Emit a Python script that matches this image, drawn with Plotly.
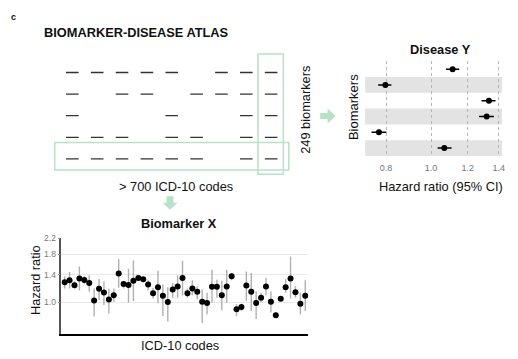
import numpy as np
import plotly.graph_objects as go

# The page body has an 8px default margin; the figure is sized so it fits the window.
OFF = 8
W, H = 518 - OFF, 359 - OFF
FONT = "Liberation Sans, Arial, Helvetica, sans-serif"
GREEN = "#b7e2c8"

# ---------------- Data ----------------
# Atlas presence matrix (rows = biomarkers, cols = ICD-10 codes)
atlas_cols = [1, 2, 3, 4, 5, 6, 7, 8, 9]
atlas_rows = [1, 2, 3, 4, 5]
atlas_presence = [
    [1, 1, 1, 1, 1, 0, 1, 1, 1],
    [1, 0, 1, 1, 0, 1, 1, 1, 1],
    [1, 0, 0, 0, 1, 0, 0, 1, 1],
    [1, 1, 1, 0, 1, 1, 0, 1, 1],
    [1, 1, 1, 1, 1, 1, 0, 1, 1],
]

# Disease Y forest plot
biomarker_rows = [1, 2, 3, 4, 5, 6]
hr_y = [1.113, 0.797, 1.333, 1.318, 0.772, 1.068]
hr_y_lo = [1.077, 0.769, 1.285, 1.269, 0.744, 1.033]
hr_y_hi = [1.150, 0.821, 1.377, 1.366, 0.801, 1.107]
forest_ticks = [0.8, 1.0, 1.2, 1.4]
forest_ticktext = ["0.8", "1.0", "1.2", "1.4"]

# Biomarker X across ICD-10 codes
icd_codes = list(range(1, 51))
hr_x = [1.276, 1.308, 1.230, 1.335, 1.313, 1.266, 1.020, 1.177, 1.125, 1.033,
        1.089, 1.424, 1.251, 1.235, 1.302, 1.345, 1.324, 1.240, 1.116, 1.201,
        1.080, 1.000, 1.167, 1.211, 1.345, 1.116, 1.181, 1.134, 1.004, 0.988,
        1.206, 1.206, 1.089, 1.211, 1.373, 0.915, 0.941, 1.225, 1.134, 0.988,
        1.054, 1.211, 1.004, 0.850, 1.042, 1.201, 1.335, 1.130, 0.980, 1.080]
hr_x_lo = [1.181, 1.181, 1.181, 1.153, 1.251, 1.134, 0.836, 1.025, 0.964, 0.867,
           1.004, 1.191, 1.181, 0.992, 1.012, 1.292, 1.276, 1.153, 1.046, 0.984,
           0.843, 0.787, 1.054, 1.054, 1.085, 1.054, 1.089, 1.033, 0.771, 0.860,
           0.992, 1.054, 0.903, 0.992, 1.308, 0.843, 0.896, 1.012, 0.896, 0.810,
           1.000, 1.089, 0.878, 0.826, 1.012, 1.121, 1.046, 1.054, 0.860, 0.896]
hr_x_hi = [1.373, 1.448, 1.292, 1.551, 1.373, 1.390, 1.181, 1.329, 1.292, 1.181,
           1.181, 1.703, 1.292, 1.508, 1.676, 1.373, 1.356, 1.308, 1.191, 1.471,
           1.240, 1.201, 1.266, 1.390, 1.662, 1.181, 1.308, 1.216, 1.167, 1.121,
           1.489, 1.318, 1.302, 1.489, 1.430, 0.972, 0.980, 1.459, 1.430, 1.144,
           1.121, 1.345, 1.144, 0.878, 1.076, 1.329, 1.752, 1.216, 1.121, 1.308]
hr_ticks = [1.0, 1.4, 1.8, 2.2]
hr_ticktext = ["1.0", "1.4", "1.8", "2.2"]


def px(x):
    return (x - OFF) / W


def py(y):
    return 1 - (y - OFF) / H


fig = go.Figure()

# ---------------- Atlas (x3 / y3) ----------------
ax, ay = [], []
for r, row in zip(atlas_rows, atlas_presence):
    for c, v in zip(atlas_cols, row):
        if v:
            ax.append(c)
            ay.append(r)
fig.add_trace(go.Scatter(
    x=ax, y=ay, mode="markers", xaxis="x3", yaxis="y3",
    marker=dict(symbol="line-ew", size=9, line=dict(width=1.3, color="#333333")),
    hoverinfo="skip", showlegend=False))

# ---------------- Forest (x2 / y2) ----------------
hy = np.array(hr_y)
fig.add_trace(go.Scatter(
    x=hr_y, y=biomarker_rows, mode="markers", xaxis="x2", yaxis="y2",
    marker=dict(color="black", size=6),
    error_x=dict(type="data", symmetric=False,
                 array=list(np.array(hr_y_hi) - hy),
                 arrayminus=list(hy - np.array(hr_y_lo)),
                 color="black", thickness=1.5, width=0),
    showlegend=False))

# ---------------- Biomarker X (x / y) ----------------
hx = np.array(hr_x)
fig.add_trace(go.Scatter(
    x=icd_codes, y=hr_x, mode="markers", xaxis="x", yaxis="y",
    marker=dict(color="black", size=6),
    error_y=dict(type="data", symmetric=False,
                 array=list(np.array(hr_x_hi) - hx),
                 arrayminus=list(hx - np.array(hr_x_lo)),
                 color="#b0b0b0", thickness=1.4, width=0),
    showlegend=False))

shapes = []
# forest grey bands
for r in biomarker_rows:
    if r % 2 == 0:
        shapes.append(dict(type="rect", xref="x2 domain", yref="y2",
                           x0=0, x1=1, y0=r - 0.5, y1=r + 0.5,
                           fillcolor="#e3e3e3", line=dict(width=0), layer="below"))
# forest reference line at HR = 1 (log axis -> log10 value)
shapes.append(dict(type="line", xref="x2", yref="y2 domain", x0=0, x1=0, y0=0, y1=1.02,
                   line=dict(color="black", width=1.3)))
# biomarker X reference line at HR = 1
shapes.append(dict(type="line", xref="x domain", yref="y", x0=0, x1=1, y0=0, y1=0,
                   line=dict(color="black", width=1.5)))

# green highlight rectangles
shapes.append(dict(type="rect", xref="paper", yref="paper",
                   x0=px(259.5), x1=px(285), y0=py(171.5), y1=py(49.5),
                   line=dict(color=GREEN, width=1.5)))
shapes.append(dict(type="rect", xref="paper", yref="paper",
                   x0=px(55), x1=px(290.5), y0=py(167.3), y1=py(139.3),
                   line=dict(color=GREEN, width=1.5)))


def path(pts):
    return "M " + " L ".join(f"{px(x):.5f},{py(y):.5f}" for x, y in pts) + " Z"


# down arrow
shapes.append(dict(type="path", xref="paper", yref="paper",
                   path=path([(167.5, 194), (174.5, 194), (174.5, 200.5), (178.5, 200.5),
                              (171, 207.5), (163.5, 200.5), (167.5, 200.5)]),
                   fillcolor=GREEN, line=dict(width=0)))
# right arrow
shapes.append(dict(type="path", xref="paper", yref="paper",
                   path=path([(322, 109.5), (329.5, 109.5), (329.5, 105), (337.5, 112.5),
                              (329.5, 120), (329.5, 115.5), (322, 115.5)]),
                   fillcolor=GREEN, line=dict(width=0)))

ann = []


def text(t, x, y, size=12.8, bold=False, angle=0, color="#111111"):
    ann.append(dict(text=f"<b>{t}</b>" if bold else t, x=px(x), y=py(y),
                    xref="paper", yref="paper", showarrow=False, textangle=angle,
                    xanchor="center", yanchor="middle",
                    font=dict(family=FONT, size=size, color=color)))


text("c", 14, 12, size=9, bold=True)
text("BIOMARKER-DISEASE ATLAS", 137.5, 27.5, bold=True)
text("&gt; 700 ICD-10 codes", 177, 183.5)
text("249 biomarkers", 306.5, 106.5, angle=-90)
text("Disease Y", 443, 45.5, bold=True)
text("Biomarkers", 355, 103.5, size=13, angle=-90)
text("Hazard ratio (95% CI)", 444, 183.5)
text("Biomarker X", 180, 221.5, bold=True)
text("Hazard ratio", 35, 279, angle=-90)
text("ICD-10 codes", 181.5, 345)

fig.update_layout(
    width=W, height=H, margin=dict(l=0, r=0, t=0, b=0),
    paper_bgcolor="white", plot_bgcolor="white",
    font=dict(family=FONT, color="#111111"),
    shapes=shapes, annotations=ann, showlegend=False,
    # Biomarker X
    xaxis=dict(domain=[px(61.7), px(310)], range=[0.33, 50.6],
               showgrid=False, zeroline=False, showticklabels=False, ticks="",
               showline=True, linecolor="black", linewidth=1.5),
    yaxis=dict(domain=[py(333.3), py(236)], type="log",
               range=[np.log10(0.677), np.log10(2.21)],
               tickvals=hr_ticks, ticktext=hr_ticktext,
               tickfont=dict(size=8.5, color="#777777"),
               ticks="outside", ticklen=2, tickcolor="#999999",
               showgrid=True, gridcolor="#e9e9e9", gridwidth=1.2, zeroline=False,
               showline=True, linecolor="#555555", linewidth=1.5),
    # Forest
    xaxis2=dict(domain=[px(367.3), px(505)], anchor="y2", type="log",
                range=[np.log10(0.721), np.log10(1.423)],
                tickvals=forest_ticks, ticktext=forest_ticktext,
                tickfont=dict(size=9, color="#777777"), ticklabelstandoff=5,
                showgrid=True, gridcolor="#b5b5b5", griddash="dot", gridwidth=1,
                zeroline=False, showline=False, ticks=""),
    yaxis2=dict(domain=[py(153), py(57)], anchor="x2", range=[6.5, 0.5],
                showgrid=False, zeroline=False, showticklabels=False, showline=False),
    # Atlas
    xaxis3=dict(domain=[px(60.2), px(285.2)], anchor="y3", range=[0.5, 9.5],
                visible=False),
    yaxis3=dict(domain=[py(167), py(57.4)], anchor="x3", range=[5.5, 0.5],
                visible=False),
)

fig.write_html("out.html")
